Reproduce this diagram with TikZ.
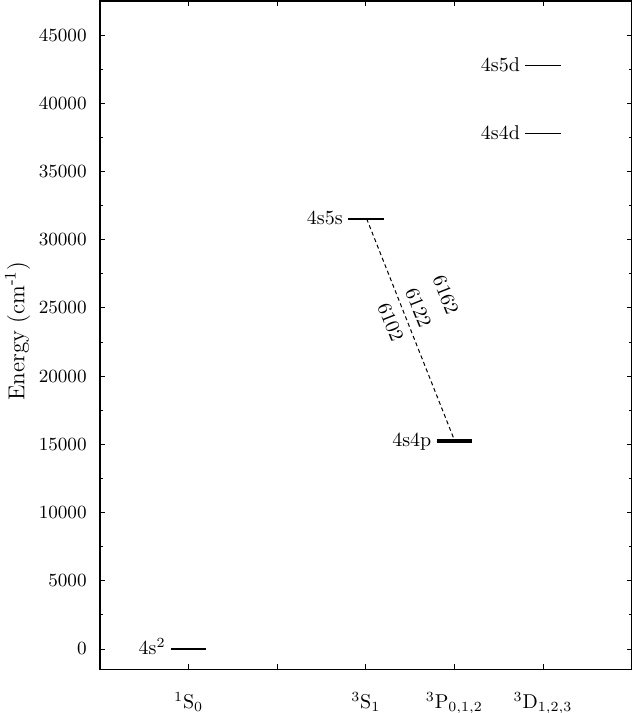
\documentclass[tikz,border=0pt]{standalone}
\begin{document}
\begin{tikzpicture}[x=44.3pt, y=6.82pt,
  frame/.style={line width=0.7pt},
  tickline/.style={line width=0.5pt},
  level/.style={line width=0.75pt},
  trans/.style={line width=0.5pt, dash pattern=on 2pt off 1.5pt},
  ticklab/.style={font=\fontsize{9.3}{11}\selectfont, inner sep=0pt},
  lab/.style={font=\fontsize{10}{12}\selectfont, inner sep=0pt},
  lvllab/.style={font=\fontsize{10}{12}\selectfont, inner sep=0pt, anchor=base east, xshift=-2.5pt, yshift=-2.7pt}]
\useasboundingbox (-1.1287,-4.692) rectangle (6.0384,47.581);
% frame
\draw[frame] (0,-1.5) rectangle (6,47.5);
% y ticks
\foreach \e/\t in {0/0,5/5000,10/10000,15/15000,20/20000,25/25000,30/30000,35/35000,40/40000,45/45000}{
  \draw[tickline] (0,\e) -- ++(2.5pt,0);
  \draw[tickline] (6,\e) -- ++(-2.5pt,0);
  \node[ticklab, anchor=east] (yl\e) at ([xshift=-6.5pt]0,\e) {\t};
}
\foreach \e in {2.5,7.5,12.5,17.5,22.5,27.5,32.5,37.5,42.5}{
  \draw[tickline] (0,\e) -- ++(1.25pt,0);
  \draw[tickline] (6,\e) -- ++(-1.25pt,0);
}
% x ticks
\foreach \d in {1,2,3,4,5}{
  \draw[tickline] (\d,-1.5) -- ++(0,2.5pt);
  \draw[tickline] (\d,47.5) -- ++(0,-2.5pt);
}
\node[lab, anchor=base] (x1) at ([yshift=-19.75pt]1,-1.5) {$^1$S$_0$};
\node[lab, anchor=base] (x3) at ([yshift=-19.75pt]3,-1.5) {$^3$S$_1$};
\node[lab, anchor=base] (x4) at ([yshift=-19.75pt]4,-1.5) {$^3$P$_{0,1,2}$};
\node[lab, anchor=base] (x5) at ([yshift=-19.75pt]5,-1.5) {$^3$D$_{1,2,3}$};
% y label
\node[font=\fontsize{11.5}{13}\selectfont, inner sep=0pt, rotate=90] (ylab) at (-0.93,23.3) {Energy (cm\textsuperscript{-1})};
% levels
\draw[level] (0.8,0) -- (1.2,0);
\node[lvllab] (l4s2) at (0.8,0) {4s$^2$};
\draw[level] (2.8,31.539) -- (3.2,31.539);
\node[lvllab] (l4s5s) at (2.8,31.539) {4s5s};
\draw[level] (3.8,15.158) -- (4.2,15.158);
\draw[level] (3.8,15.210) -- (4.2,15.210);
\draw[level] (3.8,15.316) -- (4.2,15.316);
\node[lvllab] (l4s4p) at (3.8,15.21) {4s4p};
\draw[level] (4.8,37.78) -- (5.2,37.78);
\node[lvllab] (l4s4d) at (4.8,37.78) {4s4d};
\draw[level] (4.8,42.76) -- (5.2,42.76);
\node[lvllab] (l4s5d) at (4.8,42.76) {4s5d};
% transition
\coordinate (s5) at (3.01,31.539);
\coordinate (p4) at (4.0,15.316);
\draw[trans] (s5) -- (p4);
\node[lab, rotate=-68.2] (w1) at (3.28,23.95) {6102};
\node[lab, rotate=-68.2] (w2) at (3.593,25.02) {6122};
\node[lab, rotate=-68.2] (w3) at (3.902,25.95) {6162};
\end{tikzpicture}
\end{document}
